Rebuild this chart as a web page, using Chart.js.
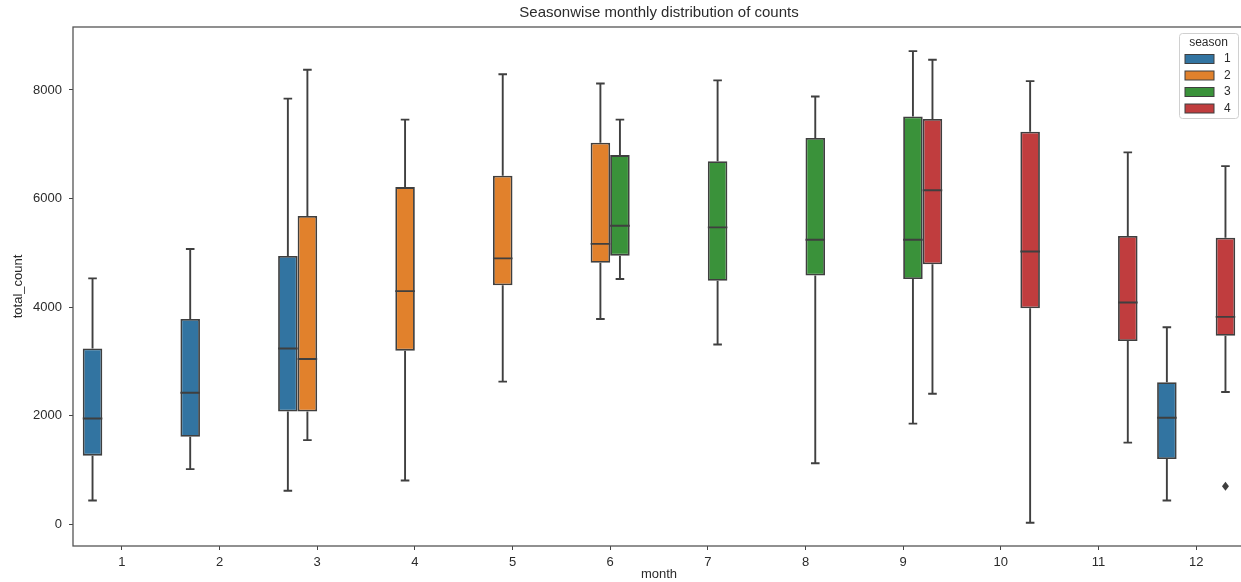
<!DOCTYPE html>
<html>
<head>
<meta charset="utf-8">
<script src="https://cdn.jsdelivr.net/npm/chart.js@4.4.1/dist/chart.umd.min.js"></script>
<style>
  html, body { margin: 0; padding: 0; background: #fff; overflow: hidden; }
  #wrap { width: 1248px; height: 582px; }
</style>
</head>
<body>
<div id="wrap"><canvas id="chart" width="1248" height="582"></canvas></div>
<script>
const months = ['1', '2', '3', '4', '5', '6', '7', '8', '9', '10', '11', '12'];
const seasons = ['1', '2', '3', '4'];
const seasonColors = ['#3274a1', '#e1812c', '#3a923a', '#c03d3e'];

// one box per month: [low whisker, q1, median, q3, high whisker]
const season1 = [
  [435, 1260, 1945, 3234, 4528], [1012, 1609, 2421, 3779, 5068], [613, 2072, 3234, 4941, 7841],
  null, null, null, null, null, null, null, null,
  [435, 1197, 1958, 2612, 3627]
];
const season2 = [
  null, null, [1546, 2072, 3043, 5677, 8374], [803, 3196, 4293, 6210, 7454],
  [2624, 4401, 4896, 6419, 8291], [3779, 4814, 5163, 7029, 8120],
  null, null, null, null, null, null
];
const season3 = [
  null, null, null, null, null, [4516, 4947, 5499, 6800, 7454],
  [3310, 4484, 5467, 6686, 8177], [1120, 4579, 5239, 7117, 7879], [1850, 4516, 5239, 7511, 8717],
  null, null, null
];
const season4 = [
  null, null, null, null, null, null, null, null,
  [2402, 4788, 6153, 7466, 8558], [23, 3976, 5023, 7232, 8164],
  [1501, 3373, 4084, 5309, 6851], [2434, 3468, 3818, 5277, 6597]
];
const outlierSeason = ['4'];
const outlierMonth = ['12'];
const outlierValue = [695];

const yTicks = [0, 2000, 4000, 6000, 8000];

const FONT = '"Liberation Sans", Arial, sans-serif';
const lineColor = '#3f3f3f';
const textColor = '#2b2b2b';

const allBoxes = [season1, season2, season3, season4];

const boxPlot = {
  id: 'boxPlot',
  afterDatasetsDraw(chart) {
    const { ctx } = chart;
    const y = chart.scales.y;
    ctx.save();
    ctx.strokeStyle = lineColor;
    ctx.lineWidth = 1.9;
    chart.data.datasets.forEach((ds, di) => {
      const meta = chart.getDatasetMeta(di);
      ds.boxes.forEach((b, i) => {
        if (!b) return;
        const bar = meta.data[i];
        const x = bar.x;
        const half = bar.width / 2;
        const cap = bar.width * 0.22;
        const [lo, q1, med, q3, hi] = b.map(v => y.getPixelForValue(v));
        ctx.beginPath();
        ctx.moveTo(x, q3); ctx.lineTo(x, hi);
        ctx.moveTo(x - cap, hi); ctx.lineTo(x + cap, hi);
        ctx.moveTo(x, q1); ctx.lineTo(x, lo);
        ctx.moveTo(x - cap, lo); ctx.lineTo(x + cap, lo);
        ctx.moveTo(x - half, med); ctx.lineTo(x + half, med);
        ctx.stroke();
      });
    });
    ctx.fillStyle = lineColor;
    outlierValue.forEach((v, k) => {
      const di = seasons.indexOf(outlierSeason[k]);
      const i = months.indexOf(outlierMonth[k]);
      const bar = chart.getDatasetMeta(di).data[i];
      const py = y.getPixelForValue(v);
      ctx.beginPath();
      ctx.moveTo(bar.x, py - 4.5);
      ctx.lineTo(bar.x + 3.5, py);
      ctx.lineTo(bar.x, py + 4.5);
      ctx.lineTo(bar.x - 3.5, py);
      ctx.closePath();
      ctx.fill();
    });
    ctx.restore();
  },
  afterDraw(chart) {
    const { ctx, chartArea: a } = chart;
    ctx.save();
    // frame
    ctx.strokeStyle = '#555';
    ctx.lineWidth = 1.3;
    ctx.strokeRect(a.left, a.top, a.right - a.left, a.bottom - a.top);

    // title and axis labels
    ctx.fillStyle = textColor;
    ctx.textAlign = 'center';
    ctx.textBaseline = 'middle';
    ctx.font = '15px ' + FONT;
    ctx.fillText('Seasonwise monthly distribution of counts', (a.left + a.right) / 2, 13);
    ctx.font = '13px ' + FONT;
    ctx.fillText('month', (a.left + a.right) / 2, 574);
    ctx.save();
    ctx.translate(18, (a.top + a.bottom) / 2);
    ctx.rotate(-Math.PI / 2);
    ctx.fillText('total_count', 0, 0);
    ctx.restore();

    // legend
    const lx = 1179, ly = 33, lw = 59, lh = 85;
    ctx.fillStyle = 'rgba(255,255,255,0.85)';
    ctx.strokeStyle = '#d0d0d0';
    ctx.lineWidth = 1;
    ctx.beginPath();
    ctx.roundRect(lx + 0.5, ly + 0.5, lw, lh, 3);
    ctx.fill();
    ctx.stroke();
    ctx.fillStyle = textColor;
    ctx.font = '12px ' + FONT;
    ctx.fillText('season', lx + lw / 2, ly + 10);
    seasons.forEach((s, k) => {
      const ry = ly + 26 + k * 16.5;
      ctx.fillStyle = seasonColors[k];
      ctx.strokeStyle = lineColor;
      ctx.fillRect(lx + 6, ry - 4.5, 29, 9);
      ctx.strokeRect(lx + 6, ry - 4.5, 29, 9);
      ctx.fillStyle = textColor;
      ctx.textAlign = 'left';
      ctx.fillText(s, lx + 45, ry);
      ctx.textAlign = 'center';
    });
    ctx.restore();
  }
};

new Chart(document.getElementById('chart').getContext('2d'), {
  type: 'bar',
  data: {
    labels: months,
    datasets: seasons.map((s, k) => ({
      label: s,
      data: allBoxes[k].map(b => (b ? [b[1], b[3]] : null)),
      boxes: allBoxes[k],
      backgroundColor: seasonColors[k],
      borderColor: lineColor,
      borderWidth: 1.8,
      borderSkipped: false,
      categoryPercentage: 0.8,
      barPercentage: 1.0
    }))
  },
  options: {
    responsive: false,
    animation: false,
    layout: { padding: { top: 27, right: 3, left: 0, bottom: 0 } },
    plugins: {
      legend: { display: false },
      tooltip: { enabled: false },
      title: { display: false }
    },
    scales: {
      x: {
        type: 'category',
        border: { display: false },
        grid: { drawOnChartArea: false, drawTicks: true, tickLength: 4, tickColor: '#444', offset: false },
        ticks: { color: textColor, font: { family: FONT, size: 13 }, padding: 5, maxRotation: 0 },
        afterFit(s) { s.height = 36; }
      },
      y: {
        min: -405,
        max: 9161,
        border: { display: false },
        grid: { drawOnChartArea: false, drawTicks: true, tickLength: 4, tickColor: '#444' },
        ticks: {
          color: textColor,
          font: { family: FONT, size: 13 },
          padding: 7,
          callback: v => String(v)
        },
        afterBuildTicks(s) { s.ticks = yTicks.map(v => ({ value: v })); },
        afterFit(s) { s.width = 73; }
      }
    }
  },
  plugins: [boxPlot]
});
</script>
</body>
</html>
